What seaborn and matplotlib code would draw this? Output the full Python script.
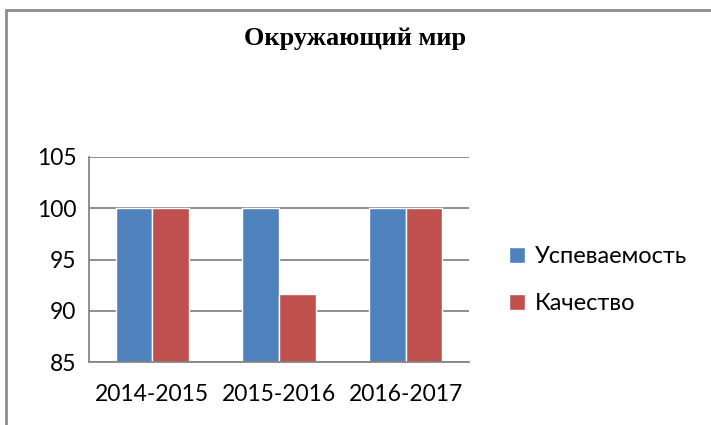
import pandas as pd
import numpy as np
import matplotlib
matplotlib.use("Agg")
import matplotlib.pyplot as plt
import seaborn as sns
from matplotlib.patches import Rectangle

years = ["2014-2015", "2015-2016", "2016-2017"]
uspev = [100, 100, 100]
kachestvo = [100, 91.6, 100]
series = ["Успеваемость", "Качество"]
colors = ["#4F81BD", "#C0504D"]

df = pd.DataFrame({
    "year": years * 2,
    "value": uspev + kachestvo,
    "series": [series[0]] * 3 + [series[1]] * 3,
})

sns.set_style("white")
plt.rcParams['font.family'] = ['Lato', 'DejaVu Sans']
plt.rcParams['text.color'] = 'black'
plt.rcParams['xtick.labelcolor'] = 'black'
plt.rcParams['ytick.labelcolor'] = 'black'

fig = plt.figure(figsize=(7.11, 4.25), dpi=100)
ax = fig.add_axes([0.1252, 0.148, 0.5344, 0.4826])

sns.barplot(data=df, x="year", y="value", hue="series", palette=colors,
            width=0.58, gap=0, ax=ax, saturation=1)

ax.set_ylim(85, 105)
ax.set_xlim(-0.5, 2.5)
ax.set_yticks([85, 90, 95, 100, 105])
ax.grid(axis="y", color="#868686", lw=1.3)
ax.set_axisbelow(True)
ax.set_xlabel("")
ax.set_ylabel("")
for s in ["top", "right"]:
    ax.spines[s].set_visible(False)
for s in ["left", "bottom"]:
    ax.spines[s].set_color("#868686")
    ax.spines[s].set_linewidth(1.3)
ax.tick_params(axis="y", length=6, color="#868686", width=1.3, labelsize=16.5, pad=3,
               labelcolor="black")
ax.tick_params(axis="x", which="major", length=0, labelsize=16.5, pad=16,
               labelcolor="black")
ax.set_xticks([-0.5, 0.5, 1.5, 2.5], minor=True)
ax.tick_params(axis="x", which="minor", length=6, color="#868686", width=1.3)

leg = ax.legend(loc="center left", bbox_to_anchor=(1.05, 0.4), frameon=False,
                fontsize=17, handlelength=0.65, handleheight=0.65,
                handletextpad=0.45, labelspacing=1.1)
for t in leg.get_texts():
    t.set_color("black")

fig.text(0.5, 0.91, "Окружающий мир", ha="center", va="center", color="black",
         fontsize=19, fontweight="bold", family="Liberation Serif")

fig.patches.append(Rectangle((6 / 711, -0.1), 1.5, 1.1 - 10 / 425,
                             transform=fig.transFigure, fill=False,
                             edgecolor="#8c8c8c", lw=2))

fig.savefig("out.png", dpi=100)
